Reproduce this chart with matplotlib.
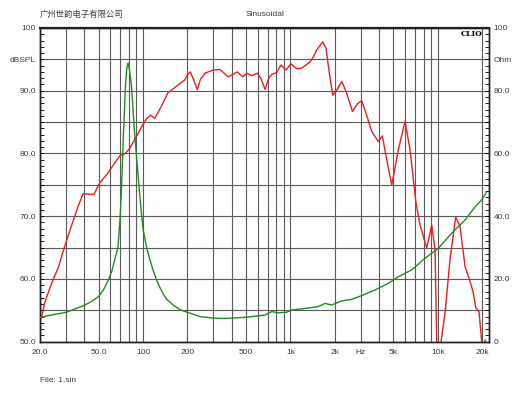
import matplotlib
matplotlib.use('Agg')
import matplotlib.pyplot as plt
from matplotlib.ticker import FixedLocator, MultipleLocator, FixedFormatter

plt.rcParams['font.family'] = ['Liberation Sans', 'DejaVu Sans']

# SPL response (left axis, dB)
spl_freq = [20, 20.9, 21.5, 24.5, 26.5, 29.4, 32.6, 36.2, 39.2, 43, 46.5, 50.8,
            57.9, 63.5, 69.5, 75.8, 81.2, 90.0, 99.9, 106, 112.7, 120.1, 133.1, 147.7,
            160, 172.7, 191.6, 201, 209.3, 220, 233.5, 245, 263.3, 299.7, 332.8, 378.9,
            436.1, 474.6, 505.3, 546.3, 596.2, 635, 672.3, 710, 746.6, 807.1, 863, 933,
            1008, 1103, 1192, 1357, 1430, 1507, 1655, 1743, 1830, 1935, 2060, 2228,
            2408, 2636, 2840, 3044, 3300, 3561, 3946, 4201, 4543, 4864, 5100, 5394,
            5989, 6476, 7111, 7570, 8406, 9089, 9569, 9826, 10100, 10510, 11190, 12090,
            13220, 14140, 15290, 16280, 17410, 18070, 19030, 19840, 20300, 20900, 21300]
spl_db = [53.3, 54.7, 56.2, 59.9, 61.7, 65.2, 68.4, 71.5, 73.6, 73.5, 73.5, 75.3,
          76.9, 78.3, 79.6, 80.0, 80.8, 82.7, 84.6, 85.6, 86.1, 85.6, 87.5, 89.7,
          90.3, 90.9, 91.7, 92.6, 93.0, 91.8, 90.2, 91.8, 92.8, 93.3, 93.4, 92.2,
          93.0, 92.2, 92.8, 92.4, 92.8, 91.8, 90.2, 91.9, 92.6, 92.9, 94.1, 93.3,
          94.3, 93.5, 93.6, 94.6, 95.4, 96.5, 97.8, 96.8, 93.0, 89.3, 90.1, 91.5,
          89.6, 86.7, 87.9, 88.4, 86.0, 83.5, 81.9, 82.8, 78.5, 75.0, 77.5, 80.6,
          85.1, 80.6, 72.1, 68.6, 64.9, 68.6, 64.6, 50.0, 42.0, 50.0, 54.6, 63.1,
          69.9, 68.4, 62.0, 60.1, 57.8, 55.4, 54.8, 50.0, 47.0, 50.3, 47.0]

# impedance (right axis, Ohm)
imp_freq = [20, 30.3, 40.4, 45, 49.7, 54, 58.5, 61.5, 64.6, 67.6, 70.0, 71.6, 73.6,
            76.1, 77.6, 79.1, 80.7, 83.3, 87.8, 93.5, 97.5, 100.3, 105.8, 110,
            117, 124, 131, 138, 145, 160, 180, 208.8, 243.6, 290, 350, 505,
            672, 747, 828, 943, 1020, 1256, 1545, 1716, 1905, 2228, 2605, 3044,
            3749, 4613, 5394, 6650, 8183, 10080, 12420, 15290, 17880, 19840, 21300]
imp_ohm = [7.8, 9.4, 11.7, 12.9, 14.3, 16.6, 19.9, 22.6, 26.6, 30.0, 40.0, 50.0, 66.0,
           82.0, 87.2, 88.9, 87.0, 82.0, 66.0, 50.5, 40.9, 35.6, 30.0, 27.0,
           22.8, 19.5, 17.0, 15.0, 13.5, 11.7, 10.1, 9.1, 8.0, 7.6, 7.4, 7.8,
           8.5, 9.6, 9.2, 9.4, 10.1, 10.6, 11.2, 12.2, 11.7, 13.0, 13.5, 14.7,
           16.5, 18.6, 20.7, 22.9, 26.6, 29.8, 34.6, 38.8, 43.0, 45.2, 47.5]

x_ticks = [20, 50, 100, 200, 500, 1000, 2000, 3000, 5000, 10000, 20000]
x_labels = ['20.0', '50.0', '100', '200', '500', '1k', '2k', 'Hz', '5k', '10k', '20k']
x_grid = [20, 30, 40, 50, 60, 70, 80, 90, 100, 200, 300, 400, 500, 600, 700, 800, 900,
          1000, 2000, 3000, 4000, 5000, 6000, 7000, 8000, 9000, 10000, 20000]
left_ticks = [50, 55, 60, 65, 70, 75, 80, 85, 90, 95, 100]
left_labels = ['50.0', '', '60.0', '', '70.0', '', '80.0', '', '90.0', 'dBSPL', '100']
right_ticks = [0, 10, 20, 30, 40, 50, 60, 70, 80, 90, 100]
right_labels = ['0', '', '20.0', '', '40.0', '', '60.0', '', '80.0', 'Ohm', '100']

txt_col = '#3c3c3c'
grid_col = '#5a5a5a'

fig = plt.figure(figsize=(5.3, 3.98), dpi=100)
ax = fig.add_axes([40 / 530, 56.3 / 398, 449.2 / 530, 313.7 / 398])
ax.set_xscale('log')
ax.set_xlim(20, 22300)
ax.set_ylim(50, 100)

for f in x_grid:
    ax.axvline(f, color=grid_col, lw=0.8, zorder=1)
for v in left_ticks:
    ax.axhline(v, color=grid_col, lw=0.8, zorder=1)

ax.xaxis.set_major_locator(FixedLocator(x_ticks))
ax.xaxis.set_major_formatter(FixedFormatter(x_labels))
ax.xaxis.set_minor_locator(FixedLocator([]))
ax.tick_params(axis='x', length=0, pad=5, labelsize=6, labelcolor=txt_col)

ax.yaxis.set_major_locator(FixedLocator(left_ticks))
ax.yaxis.set_major_formatter(FixedFormatter(left_labels))
ax.yaxis.set_minor_locator(MultipleLocator(1))
ax.tick_params(axis='y', which='both', direction='in', length=3, width=0.6,
               labelsize=6, labelcolor=txt_col, pad=3)

ax.plot(spl_freq, spl_db, color='#ee1c1c', lw=1.0, zorder=3)

ax2 = ax.twinx()
ax2.set_ylim(0, 100)
ax2.yaxis.set_major_locator(FixedLocator(right_ticks))
ax2.yaxis.set_major_formatter(FixedFormatter(right_labels))
ax2.yaxis.set_minor_locator(MultipleLocator(2))
ax2.tick_params(axis='y', which='both', direction='in', length=3, width=0.6,
                labelsize=6, labelcolor=txt_col, pad=3)
ax2.plot(imp_freq, imp_ohm, color='#1e8c1e', lw=1.0, zorder=3)

for a in (ax, ax2):
    for s in a.spines.values():
        s.set_color('#202020')
        s.set_linewidth(1.0)
ax.spines['top'].set_linewidth(1.6)

ax2.text(0.985, 0.995, 'CLIO', transform=ax2.transAxes, ha='right', va='top',
         fontsize=5.5, fontweight='bold', family='DejaVu Serif', color='black')

fig.text(40 / 530, 1 - 14 / 398, '广州世韵电子有限公司', ha='left', va='center',
         fontsize=6, color=txt_col, family=['Noto Sans CJK SC', 'DejaVu Sans'])
fig.text(265 / 530, 1 - 14 / 398, 'Sinusoidal', ha='center', va='center',
         fontsize=6, color=txt_col)
fig.text(40 / 530, 1 - 380 / 398, 'File: 1.sin', ha='left', va='center',
         fontsize=6, color=txt_col)

fig.savefig('out.png', dpi=100)
